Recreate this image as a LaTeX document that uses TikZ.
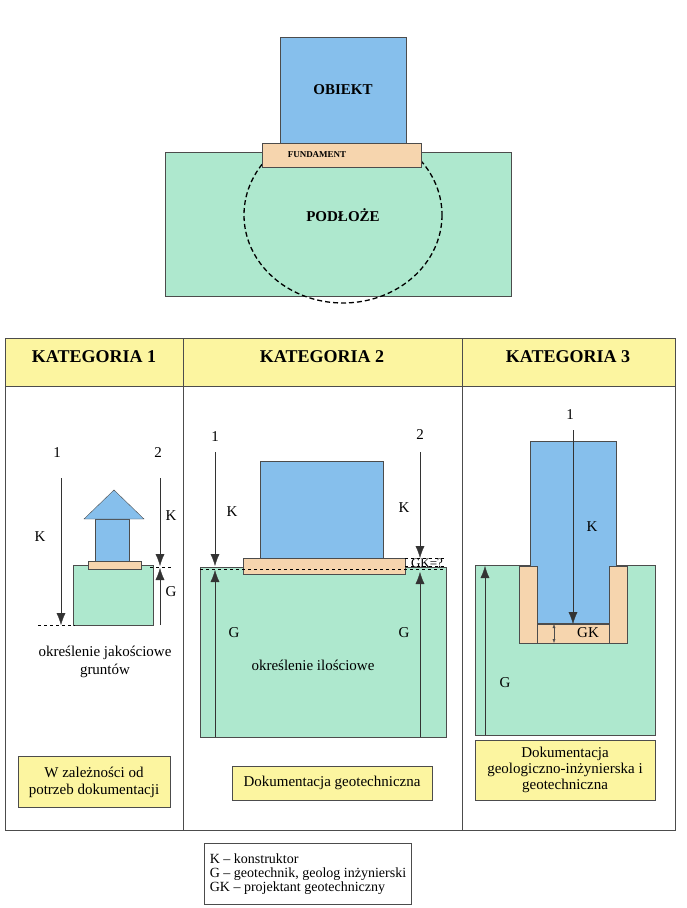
\documentclass[tikz,border=0pt]{standalone}
\usepackage{fontspec}
\setmainfont{Liberation Serif}
\usetikzlibrary{positioning,arrows.meta}
\definecolor{obj}{HTML}{86BFEC}
\definecolor{soil}{HTML}{AEE8CE}
\definecolor{fund}{HTML}{F6D5AE}
\definecolor{note}{HTML}{FCF5A0}
\newcommand{\fs}[1]{\fontsize{#1}{#1}\selectfont}
\tikzset{
  objbox/.style={draw=black!70, fill=obj},
  soilbox/.style={draw=black!70, fill=soil},
  fundbox/.style={draw=black!70, fill=fund},
  notebox/.style={draw=black!70, fill=note, align=center, font=\fs{15}},
  dim/.style={draw=black!80, -{Latex[length=12pt,width=9pt]}},
}
\begin{document}
\begin{tikzpicture}[x=1pt,y=-1pt, every node/.style={font=\fs{15}}]
\useasboundingbox (0,0) rectangle (686,908);
% foundation scheme
\fill[soil, draw=black!70] (165,152) rectangle (511,296);
\draw[dashed, line width=1.3pt, dash pattern=on 5pt off 3pt] (343,215) ellipse [x radius=99, y radius=88];
\draw[objbox] (280,37) rectangle (406,143);
\draw[fundbox] (262,143) rectangle (421,167);
\node[font=\bfseries\fs{15}] (obiekt) at (343,90) {OBIEKT};
\node[font=\bfseries\fs{9}] (fundament) at (317,155) {FUNDAMENT};
\node[font=\bfseries\fs{15}] (podloze) at (343,215) {PODŁOŻE};

% table
\fill[note] (5,338) rectangle (675,386);
\draw[black!70] (5,338) rectangle (675,830) (5,386) -- (675,386)
  (183,338) -- (183,830) (462,338) -- (462,830);
\node[font=\bfseries\fs{18}] (kat1) at (94,357) {KATEGORIA 1};
\node[font=\bfseries\fs{18}] (kat2) at (322,357) {KATEGORIA 2};
\node[font=\bfseries\fs{18}] (kat3) at (568,357) {KATEGORIA 3};

% kategoria 1
\draw[soilbox] (73,565) rectangle (153,625);
\draw[objbox] (95,519) rectangle (129,561);
\draw[objbox] (84,519) -- (114,490) -- (144,519) -- cycle;
\draw[fundbox] (88,561) rectangle (141,569);
\node (k1a) at (57,453) {1};
\node (k1b) at (158,453) {2};
\draw[dim] (61,478) -- (61,625);
\draw[dim] (160,478) -- (160,566);
\draw[dim] (160,625) -- (160,568);
\draw[dashed] (38,625) -- (75,625) (150,567) -- (172,567);
\node (k1k) at (40,537) {K};
\node (k1kk) at (171,516) {K};
\node (k1g) at (171,592) {G};
\node[align=center] (k1t) at (105,662) {określenie jakościowe\\[3pt]gruntów};
\node[notebox, minimum width=152pt, minimum height=51pt] (k1n) at (94,782) {W zależności od\\[2pt]potrzeb dokumentacji};

% kategoria 2
\draw[soilbox] (200,567) rectangle (446,737);
\draw[objbox] (260,461) rectangle (383,558);
\draw[fundbox] (243,558) rectangle (405,574);
\draw[dashed] (200,569) -- (446,569) (405,558) -- (444,558) (405,566) -- (444,566);
\node (k2a) at (215,437) {1};
\node (k2b) at (420,435) {2};
\draw[dim] (215,452) -- (215,566);
\draw[dim] (215,737) -- (215,570);
\draw[dim] (420,452) -- (420,558);
\draw[dim] (420,737) -- (420,572);
\node (k2k) at (232,512) {K};
\node (k2kk) at (404,508) {K};
\node (k2g) at (234,633) {G};
\node (k2gg) at (404,633) {G};
\node[font=\fs{13}, inner sep=0pt] (k2gk) at (427,563) {GK=?};
\node (k2t) at (313,665) {określenie ilościowe};
\node[notebox, minimum width=200pt, minimum height=34pt] (k2n) at (332,783) {Dokumentacja geotechniczna};

% kategoria 3
\draw[soilbox] (475,565) rectangle (655,735);
\draw[objbox] (530,441) rectangle (616,623);
\draw[fundbox] (519,566) rectangle (537,643) (609,566) rectangle (627,643) (537,624) rectangle (609,643);
\node (k3a) at (570,415) {1};
\draw[dim] (573,430) -- (573,624);
\draw[{Latex[length=4pt,width=3pt]}-{Latex[length=4pt,width=3pt]}, black!70] (554,624) -- (554,643);
\draw[dim] (485,735) -- (485,566);
\node[inner sep=0pt] (k3gk) at (588,633) {GK};
\node (k3k) at (592,527) {K};
\node (k3g) at (505,683) {G};
\node[notebox, minimum width=180pt, minimum height=60pt] (k3n) at (565,770) {Dokumentacja\\[1pt]geologiczno-inżynierska i\\[1pt]geotechniczna};

% legenda
\node[draw=black!70, align=left, font=\fs{14}, minimum width=207pt, minimum height=61pt] (leg) at (308,874)
  {K -- konstruktor\\G -- geotechnik, geolog inżynierski\\GK -- projektant geotechniczny};
\end{tikzpicture}
\end{document}
